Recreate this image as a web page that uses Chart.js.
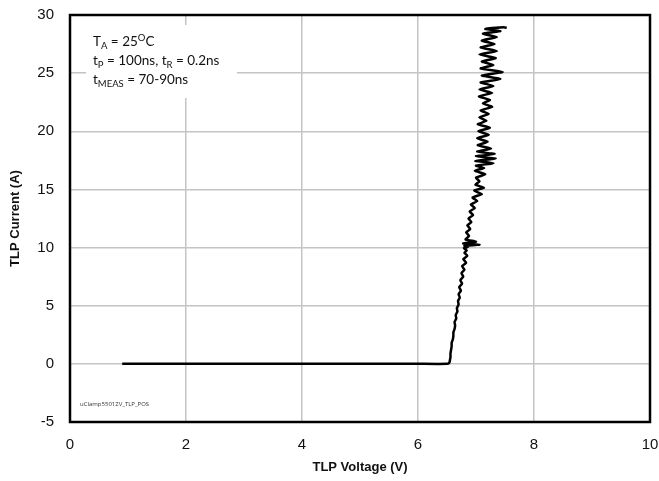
<!DOCTYPE html>
<html>
<head>
<meta charset="utf-8">
<script src="https://cdn.jsdelivr.net/npm/chart.js@4/dist/chart.umd.min.js"></script>
<style>
    html, body { margin: 0; padding: 0; background: #fff; }
    #wrap { width: 659px; height: 481px; }
</style>
</head>
<body>
<div id="wrap"><canvas id="tlpChart" width="659" height="481"></canvas></div>
<script>
// TLP curve
const voltage = [
    0.90, 2.00, 3.50, 5.00, 6.00, 6.50, 6.54, 6.55, 6.56, 6.56,
    6.57, 6.58, 6.58, 6.60, 6.61, 6.61, 6.63, 6.64, 6.63, 6.66,
    6.65, 6.68, 6.67, 6.70, 6.69, 6.72, 6.70, 6.74, 6.71, 6.76,
    6.73, 6.78, 6.75, 6.80, 6.76, 6.83, 6.78, 6.85, 6.80, 6.84,
    6.79, 6.86, 6.80, 7.06, 6.78, 7.00, 6.82, 6.88, 6.83, 6.90,
    6.85, 6.92, 6.87, 6.95, 6.89, 6.98, 6.91, 7.02, 6.94, 7.10,
    6.97, 7.14, 6.99, 7.06, 7.00, 7.16, 6.98, 7.14, 7.00, 7.30,
    6.99, 7.34, 7.00, 7.32, 7.02, 7.26, 7.03, 7.20, 7.02, 7.22,
    7.04, 7.24, 7.03, 7.18, 7.06, 7.22, 7.08, 7.28, 7.12, 7.24,
    7.05, 7.28, 7.06, 7.30, 7.08, 7.42, 7.10, 7.46, 7.08, 7.30,
    7.10, 7.34, 7.06, 7.36, 7.08, 7.32, 7.10, 7.36, 7.12, 7.42,
    7.16, 7.48, 7.53
];
const current = [
    0.00, 0.00, 0.00, 0.00, 0.00, 0.00, 0.10, 0.30, 0.60, 0.90,
    1.20, 1.50, 1.80, 2.10, 2.40, 2.70, 3.00, 3.30, 3.60, 3.90,
    4.20, 4.50, 4.80, 5.10, 5.40, 5.70, 6.00, 6.30, 6.60, 6.90,
    7.20, 7.50, 7.80, 8.10, 8.40, 8.70, 9.00, 9.30, 9.55, 9.75,
    9.95, 10.05, 10.15, 10.25, 10.35, 10.50, 10.70, 11.00, 11.30, 11.60,
    11.90, 12.20, 12.50, 12.80, 13.10, 13.40, 13.70, 14.00, 14.30, 14.60,
    14.90, 15.15, 15.40, 15.70, 16.00, 16.30, 16.60, 16.85, 17.05, 17.25,
    17.45, 17.65, 17.85, 18.05, 18.25, 18.50, 18.80, 19.10, 19.40, 19.70,
    20.00, 20.30, 20.60, 20.90, 21.20, 21.50, 21.80, 22.10, 22.40, 22.70,
    23.00, 23.30, 23.60, 23.90, 24.20, 24.50, 24.80, 25.10, 25.40, 25.70,
    26.00, 26.30, 26.60, 26.90, 27.20, 27.50, 27.80, 28.10, 28.40, 28.60,
    28.80, 28.95, 28.90
];

const xTicks = [0, 2, 4, 6, 8, 10];
const yTicks = [-5, 0, 5, 10, 15, 20, 25, 30];

const noteLines = [
    [['T', 0], ['A', -1], [' = 25', 0], ['O', 1], ['C', 0]],
    [['t', 0], ['P', -1], [' = 100ns, t', 0], ['R', -1], [' = 0.2ns', 0]],
    [['t', 0], ['MEAS', -1], [' = 70-90ns', 0]]
];
const fileTag = 'uClamp5501ZV_TLP_POS';

const points = voltage.map((v, i) => ({ x: v, y: current[i] }));

// white note box, frame and small texts
const extras = {
    id: 'extras',
    beforeDatasetsDraw(chart) {
        const c = chart.ctx;
        c.save();
        c.fillStyle = '#fff';
        c.fillRect(86, 25, 151, 73);
        c.fillStyle = '#111';
        c.textBaseline = 'alphabetic';
        noteLines.forEach((line, i) => {
            let x = 93;
            const base = 46 + i * 19;
            line.forEach(([txt, mode]) => {
                const size = mode === 0 ? 13.5 : 9.5;
                c.font = size + 'px Lato, "Open Sans", sans-serif';
                const dy = mode === -1 ? 3 : (mode === 1 ? -5 : 0);
                c.fillText(txt, x, base + dy);
                x += c.measureText(txt).width;
            });
        });
        c.font = '6px "Open Sans", sans-serif';
        c.fillStyle = '#333';
        c.fillText(fileTag, 80, 406);
        c.restore();
    },
    afterDraw(chart) {
        const a = chart.chartArea;
        const c = chart.ctx;
        c.save();
        c.strokeStyle = '#000';
        c.lineWidth = 2.5;
        c.strokeRect(a.left, a.top, a.right - a.left, a.bottom - a.top);
        c.restore();
    }
};

const tickFont = { family: '"Liberation Sans", Arial, sans-serif', size: 15 };
const titleFont = { family: '"Liberation Sans", Arial, sans-serif', size: 13, weight: 'bold' };

function noPad(s) {
    s.paddingLeft = 0;
    s.paddingRight = 0;
    s.paddingTop = 0;
    s.paddingBottom = 0;
}

new Chart(document.getElementById('tlpChart').getContext('2d'), {
    type: 'scatter',
    data: {
        datasets: [{
            data: points,
            showLine: true,
            borderColor: '#000',
            borderWidth: 2.5,
            pointRadius: 0,
            tension: 0.12
        }]
    },
    options: {
        responsive: false,
        animation: false,
        layout: { padding: { left: 0, right: 9, top: 15, bottom: 0 } },
        plugins: { legend: { display: false }, tooltip: { enabled: false } },
        scales: {
            x: {
                type: 'linear',
                min: 0,
                max: 10,
                afterBuildTicks: s => { s.ticks = xTicks.map(v => ({ value: v })); },
                afterFit: s => { s.height = 59; noPad(s); },
                grid: { color: '#c4c4c4', lineWidth: 1.5, drawTicks: false },
                border: { display: false },
                ticks: { font: tickFont, color: '#111', padding: 14, maxRotation: 0 },
                title: { display: true, text: 'TLP Voltage (V)', font: titleFont, color: '#111', padding: { top: 0, bottom: 6 } }
            },
            y: {
                type: 'linear',
                min: -5,
                max: 30,
                afterBuildTicks: s => { s.ticks = yTicks.map(v => ({ value: v })); },
                afterFit: s => { s.width = 70; noPad(s); },
                grid: { color: '#c4c4c4', lineWidth: 1.5, drawTicks: false },
                border: { display: false },
                ticks: { font: tickFont, color: '#111', padding: 16 },
                title: { display: true, text: 'TLP Current (A)', font: titleFont, color: '#111', padding: { top: 8, bottom: 0 } }
            }
        }
    },
    plugins: [extras]
});
</script>
</body>
</html>
